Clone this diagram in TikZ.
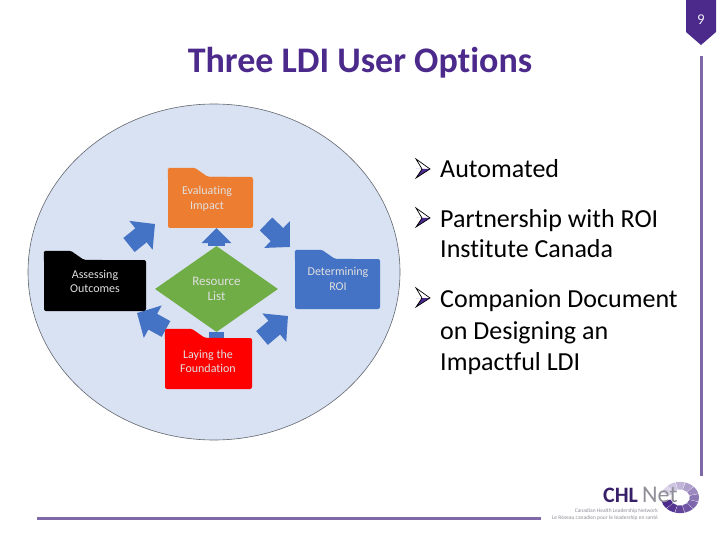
\documentclass[tikz,border=0pt]{standalone}
\usepackage{fontspec}
\setmainfont[Ligatures=CommonOff]{Carlito}
\usetikzlibrary{arrows.meta}
\usetikzlibrary{shapes.geometric}
\usetikzlibrary{backgrounds}
\definecolor{deckpurple}{HTML}{4B2A8C}
\definecolor{rulepurple}{HTML}{7F68A8}
\definecolor{arrowblue}{HTML}{4472C4}
\definecolor{circleblue}{HTML}{D9E2F3}
\definecolor{diamondgreen}{HTML}{70AD47}
\definecolor{folderorange}{HTML}{ED7D31}
\definecolor{logogrey}{HTML}{8E8E96}
\tikzset{
	folderbox/.style={rectangle,rounded corners=2pt,inner sep=0pt},
	folderlabel/.style={align=center,font=\fontsize{12}{14.5}\selectfont,text=white!88!black},
	optiontext/.style={anchor=base west,inner sep=0pt,font=\fontsize{26}{31}\selectfont,text=black},
	blockarrow/.style={draw=arrowblue,line width=18pt,-{Triangle[length=18pt,width=36pt]}},
	ruleline/.style={draw=rulepurple,line width=3pt},
}
% draws the tab of a folder above its body node
\newcommand{\foldertab}[2]{
	\fill[#2,rounded corners=1.5pt] (#1.north west) ++(0,3) -- ++(0,-12) -- ++(27,0) -- ++(13,9) -- ++(20,0) -- cycle;
}
% draws the bullet arrowhead left of a text baseline
\newcommand{\optionmark}[1]{
	\fill[deckpurple] ([shift={(-24,-9)}]#1) -- ([shift={(-10,-9)}]#1) -- ([shift={(-24,0)}]#1) -- ([shift={(-18,-9)}]#1) -- cycle;
	\draw[black,line width=0.7pt,line join=miter] ([shift={(-24,-19)}]#1) -- ([shift={(-10,-9)}]#1) -- ([shift={(-24,0)}]#1) -- ([shift={(-18,-9)}]#1) -- cycle;
}
\begin{document}
\begin{tikzpicture}[x=1pt,y=-1pt]
	\useasboundingbox (0,0) rectangle (720,540);

	\node[font=\fontsize{36}{38}\selectfont\bfseries,text=deckpurple] (title) at (360,63) {Three LDI User Options};

	% page number badge and rules
	\fill[deckpurple] (686,0) -- (716,0) -- (716,32) -- (701,45) -- (686,32) -- cycle;
	\node[text=white!90!deckpurple,font=\fontsize{15}{17}\selectfont] (pagenum) at (701,20) {9};
	\draw[ruleline] (701,56) -- (701,476);
	\draw[ruleline] (37,518.5) -- (541,518.5);

	% folders
	\node[folderbox,fill=folderorange,minimum width=85pt,minimum height=51pt] (evaluating) at (210.5,202.5) {};
	\foldertab{evaluating}{folderorange}
	\node[folderbox,fill=black,minimum width=102pt,minimum height=51pt] (assessing) at (95,285.5) {};
	\foldertab{assessing}{black}
	\node[folderbox,fill=arrowblue,minimum width=85pt,minimum height=50pt] (determining) at (337.5,284) {};
	\foldertab{determining}{arrowblue}
	\node[folderbox,fill=red,minimum width=87pt,minimum height=51pt] (laying) at (208.5,363.5) {};
	\foldertab{laying}{red}

	\node[folderlabel] (evaluatinglabel) at (207,199) {Evaluating\\Impact};
	\node[folderlabel] (assessinglabel) at (95,281.5) {Assessing\\Outcomes};
	\node[folderlabel] (determininglabel) at (338,279) {Determining\\ROI};
	\node[folderlabel] (layinglabel) at (208,361.5) {Laying the\\Foundation};

	\node[diamond,aspect=1.43,fill=diamondgreen,inner sep=0pt,minimum width=123pt,minimum height=86pt,folderlabel,font=\fontsize{13}{15.5}\selectfont] (resource) at (216.5,289) {Resource\\List};

	% free ends of the block arrows
	\coordinate (ulstart) at (129,245);
	\coordinate (ulend) at (155,224);
	\coordinate (urstart) at (266,224);
	\coordinate (urend) at (290,247);
	\coordinate (lrstart) at (262,338);
	\coordinate (lrend) at (288,316);
	\coordinate (llstart) at (166,329);
	\coordinate (llend) at (137,313);

	\begin{scope}[on background layer]
		\node[ellipse,draw=black!55!circleblue,line width=0.6pt,fill=circleblue,minimum width=372pt,minimum height=336pt,inner sep=0pt] (backdrop) at (214,272) {};
		\draw[blockarrow,line width=17pt,-{Triangle[length=15pt,width=29pt]}] (resource) -- (resource |- evaluating.south);
		\draw[draw=arrowblue,line width=15pt] (resource) -- (resource |- laying.north);
		\draw[blockarrow] (ulstart) -- (ulend);
		\draw[blockarrow] (urstart) -- (urend);
		\draw[blockarrow] (lrstart) -- (lrend);
		\draw[blockarrow] (llstart) -- (llend);
	\end{scope}

	% options
	\node[optiontext] (automated) at (440,178) {Automated};
	\optionmark{automated.base west}
	\node[optiontext] (partnerone) at (440,227) {Partnership with ROI};
	\optionmark{partnerone.base west}
	\node[optiontext] (partnertwo) at (440,258) {Institute Canada};
	\node[optiontext] (companionone) at (440,307) {Companion Document};
	\optionmark{companionone.base west}
	\node[optiontext] (companiontwo) at (440,339) {on Designing an};
	\node[optiontext] (companionthree) at (440,370) {Impactful LDI};

	% logo
	\begin{scope}[shift={(680,497.5)},xscale=1.15,yscale=0.95]
		\foreach \ang/\mix in {195/100,225/95,255/88,285/80,315/72,345/64,15/55,45/45,75/35,105/27,135/20}{
			\fill[deckpurple!\mix!white] (\ang:16.5pt) arc[start angle=\ang,delta angle=28,radius=16.5pt] -- ({\ang+28}:8.5pt) arc[start angle=\ang+28,delta angle=-28,radius=8.5pt] -- cycle;
		}
	\end{scope}
	\node[anchor=base west,inner sep=0pt,font=\fontsize{22}{24}\selectfont\bfseries,text=deckpurple!75!black] (logochl) at (603,502) {CHL};
	\node[anchor=base west,inner sep=0pt,font=\fontsize{24}{26}\selectfont,text=logogrey] (logonet) at (642,502) {Net};
	\node[anchor=east,inner sep=0pt,font=\fontsize{5.5}{6}\selectfont,text=logogrey] (logoen) at (658,511.5) {Canadian Health Leadership Network};
	\node[anchor=east,inner sep=0pt,font=\fontsize{5.5}{6}\selectfont,text=logogrey] (logofr) at (658,518) {Le Réseau canadien pour le leadership en santé};
\end{tikzpicture}
\end{document}
